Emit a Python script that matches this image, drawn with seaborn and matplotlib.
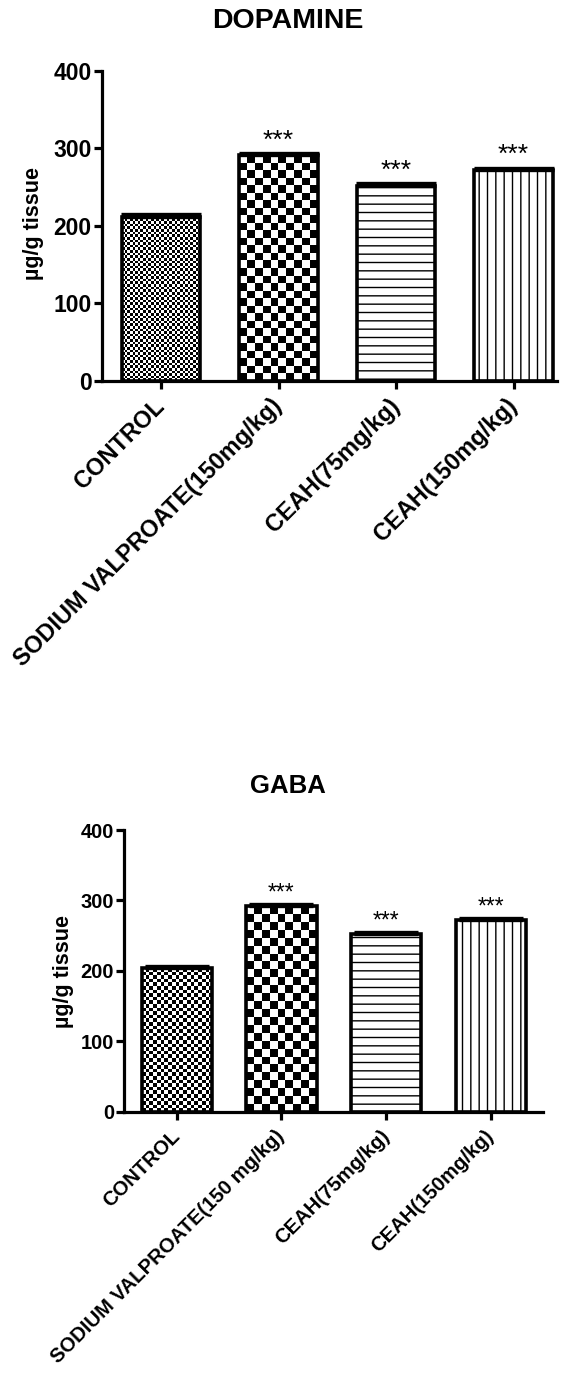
import numpy as np
import pandas as pd
import seaborn as sns
import matplotlib
matplotlib.use("Agg")
import matplotlib.pyplot as plt

# ---- data -------------------------------------------------------------
dopamine_groups = ["CONTROL", "SODIUM VALPROATE(150mg/kg)", "CEAH(75mg/kg)", "CEAH(150mg/kg)"]
dopamine_mean = [212, 291, 252, 272]
dopamine_sem = [3, 3, 3, 3]

gaba_groups = ["CONTROL", "SODIUM VALPROATE(150 mg/kg)", "CEAH(75mg/kg)", "CEAH(150mg/kg)"]
gaba_mean = [204, 292, 252, 272]
gaba_sem = [3, 3, 3, 3]

significance = ["", "***", "***", "***"]
y_ticks = [0, 100, 200, 300, 400]

# ---- style ------------------------------------------------------------
sns.set_style("white")
plt.rcParams["font.family"] = ["Liberation Sans", "DejaVu Sans"]
plt.rcParams["text.color"] = "black"
plt.rcParams["axes.labelcolor"] = "black"
plt.rcParams["xtick.color"] = "black"
plt.rcParams["ytick.color"] = "black"
plt.rcParams["hatch.linewidth"] = 1.0
plt.rcParams["hatch.color"] = "black"

W, H = 562, 1381
fig = plt.figure(figsize=(W / 100, H / 100), dpi=100)
fig.patch.set_facecolor("white")

# fill of each bar: ("checker", None) or ("hatch", pattern)
fills = [("checker", None), ("checker", None), ("hatch", "--"), ("hatch", "||")]


def px_rect(left, top, right, bottom):
    return [left / W, 1 - bottom / H, (right - left) / W, (bottom - top) / H]


def draw_panel(rect, xlim, groups, means, sems, title, title_xy, title_fs,
               ylabel_xy, ylabel_fs, xt_fs, xt_pad, yt_fs, star_fs, star_off,
               cap, cells_px):
    ax = fig.add_axes(rect)
    df = pd.DataFrame({"group": groups, "value": means})
    sns.barplot(data=df, x="group", y="value", order=groups, ax=ax,
                width=0.67, color="white", edgecolor="black",
                linewidth=2.6, errorbar=None, saturation=1)
    ax.set_ylim(0, 400)
    ax.set_xlim(*xlim)

    x = np.arange(len(groups))
    ax.errorbar(x, means, yerr=[np.zeros(len(sems)), sems], fmt="none",
                ecolor="black", elinewidth=2.4, capsize=cap, capthick=2.4,
                zorder=3)

    for p, (kind, spec), cell in zip(ax.patches, fills, cells_px):
        if kind == "hatch":
            p.set_facecolor("white")
            p.set_hatch(spec)
        else:
            p.set_facecolor("none")
            x0, w, h = p.get_x(), p.get_width(), p.get_height()
            (px0, py0), (px1, py1) = ax.transData.transform([(x0, 0), (x0 + w, h)])
            nx = max(1, int(round(abs(px1 - px0) / cell)))
            ny = max(1, int(round(abs(py1 - py0) / cell)))
            tex = np.add.outer(np.arange(ny), np.arange(nx)) % 2
            im = ax.imshow(tex, cmap="gray", vmin=0, vmax=1,
                           extent=[x0, x0 + w, 0, h], origin="lower",
                           interpolation="nearest", aspect="auto", zorder=0.9)
            im.set_clip_path(p)
    ax.set_ylim(0, 400)
    ax.set_xlim(*xlim)

    for xi, m, s, sig in zip(x, means, sems, significance):
        if sig:
            ax.text(xi, m + s + star_off, sig, ha="center", va="center",
                    fontsize=star_fs, color="black")

    sns.despine(ax=ax)
    for side in ("left", "bottom"):
        ax.spines[side].set_linewidth(2.3)
        ax.spines[side].set_color("black")

    ax.set_yticks(y_ticks)
    ax.set_yticklabels([str(t) for t in y_ticks], fontsize=yt_fs, fontweight="bold")
    ax.set_xticks(x)
    ax.set_xticklabels(groups, fontsize=xt_fs, fontweight="bold", rotation=45,
                       ha="right", va="center", rotation_mode="anchor")
    ax.tick_params(axis="both", direction="out", length=5.5, width=2.3,
                   color="black", left=True, bottom=True)
    ax.tick_params(axis="y", pad=2)
    ax.tick_params(axis="x", pad=xt_pad)
    ax.set_xlabel("")
    ax.set_ylabel("")
    ax.set_facecolor("white")

    fig.text(title_xy[0] / W, 1 - title_xy[1] / H, title, ha="center",
             va="center", fontsize=title_fs, fontweight="bold")
    fig.text(ylabel_xy[0] / W, 1 - ylabel_xy[1] / H, "µg/g tissue",
             ha="center", va="center", rotation=90, fontsize=ylabel_fs,
             fontweight="bold")
    return ax


draw_panel(px_rect(102, 70.7, 557, 381), (-0.502, 3.37),
           dopamine_groups, dopamine_mean, dopamine_sem,
           "DOPAMINE", (288, 21), 20.5, (34, 224), 15.5,
           17, 10, 16.5, 19, 16, 29, [2.6, 7.5, 0, 0])

draw_panel(px_rect(124.3, 830, 543.4, 1111.7), (-0.5, 3.5),
           gaba_groups, gaba_mean, gaba_sem,
           "GABA", (288, 786), 18.5, (64, 971), 15.5,
           14.6, 10, 14.5, 16.5, 16, 23, [3.6, 8.0, 0, 0])

fig.savefig("out.png", dpi=100, facecolor="white")
